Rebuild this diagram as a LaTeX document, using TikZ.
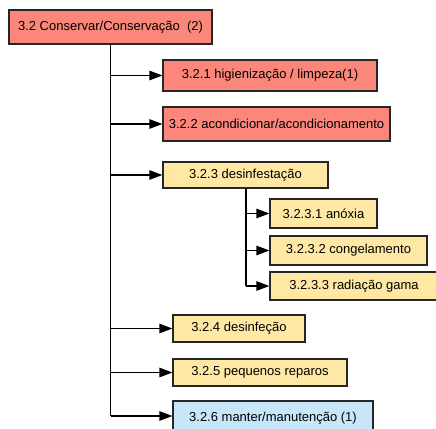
\documentclass[tikz,border=0pt]{standalone}
\usepackage{fontspec}
\setmainfont{Liberation Sans}
\usetikzlibrary{arrows.meta}
\definecolor{salmon}{RGB}{250,135,122}
\definecolor{ylw}{RGB}{255,232,164}
\definecolor{lblue}{RGB}{200,230,250}
\tikzset{
  box/.style={draw=black!85, line width=1.3pt, inner sep=0pt, font=\fontsize{13}{15}\selectfont, anchor=center},
  conn/.style={line width=1.3pt, -{Triangle[length=13pt,width=9.5pt]}},
  trunk/.style={line width=1.3pt}
}
\begin{document}
\begin{tikzpicture}[x=1pt,y=1pt]
\clip (0,0) rectangle (436,-428);
\fill[white] (0,0) rectangle (436,-428);
\node[box,fill=salmon,minimum width=203pt,minimum height=34pt] (root) at (110.5,-27) {3.2 Conservar/Conservação\ \ (2)};
\node[box,fill=salmon,minimum width=214pt,minimum height=31pt] (a1) at (270,-75.5) {3.2.1 higienização / limpeza(1)};
\node[box,fill=salmon,minimum width=227pt,minimum height=34pt] (a2) at (276.5,-124) {3.2.2 acondicionar/acondicionamento};
\node[box,fill=ylw,minimum width=165pt,minimum height=26pt] (a3) at (245.5,-175) {3.2.3 desinfestação};
\node[box,fill=ylw,minimum width=107pt,minimum height=29pt] (b1) at (323.5,-213.5) {3.2.3.1 anóxia};
\node[box,fill=ylw,minimum width=157pt,minimum height=29pt] (b2) at (348.5,-250.5) {3.2.3.2 congelamento};
\node[box,fill=ylw,minimum width=168pt,minimum height=28pt] (b3) at (354,-286) {3.2.3.3 radiação gama};
\node[box,fill=ylw,minimum width=132pt,minimum height=27pt] (a4) at (239,-328.5) {3.2.4 desinfeção};
\node[box,fill=ylw,minimum width=174pt,minimum height=27pt] (a5) at (260,-372.5) {3.2.5 pequenos reparos};
\node[box,fill=lblue,minimum width=200pt,minimum height=34pt] (a6) at (273,-418) {\raisebox{2pt}{3.2.6 manter/manutenção (1)}};
\coordinate (t0) at (110.5,-44);
\coordinate (t1) at (110.5,-75.5);
\coordinate (t2) at (110.5,-124);
\coordinate (t3) at (110.5,-175);
\coordinate (t4) at (110.5,-328.5);
\coordinate (t5) at (110.5,-372.5);
\coordinate (t6) at (110.5,-416);
\draw[trunk] (root.south -| t0) -- (t6);
\draw[conn] (t1) -- (a1.west);
\draw[conn] (t2) -- (a2.west);
\draw[conn] (t3) -- (a3.west);
\draw[conn] (t4) -- (a4.west);
\draw[conn] (t5) -- (a5.west);
\draw[conn] (t6) -- (a6.west |- t6);
\coordinate (s0) at (246,-188);
\coordinate (s1) at (246,-213.5);
\coordinate (s2) at (246,-250.5);
\coordinate (s3) at (246,-286);
\draw[trunk] (a3.south -| s0) -- (s3);
\draw[conn] (s1) -- (b1.west);
\draw[conn] (s2) -- (b2.west);
\draw[conn] (s3) -- (b3.west);
\end{tikzpicture}
\end{document}
